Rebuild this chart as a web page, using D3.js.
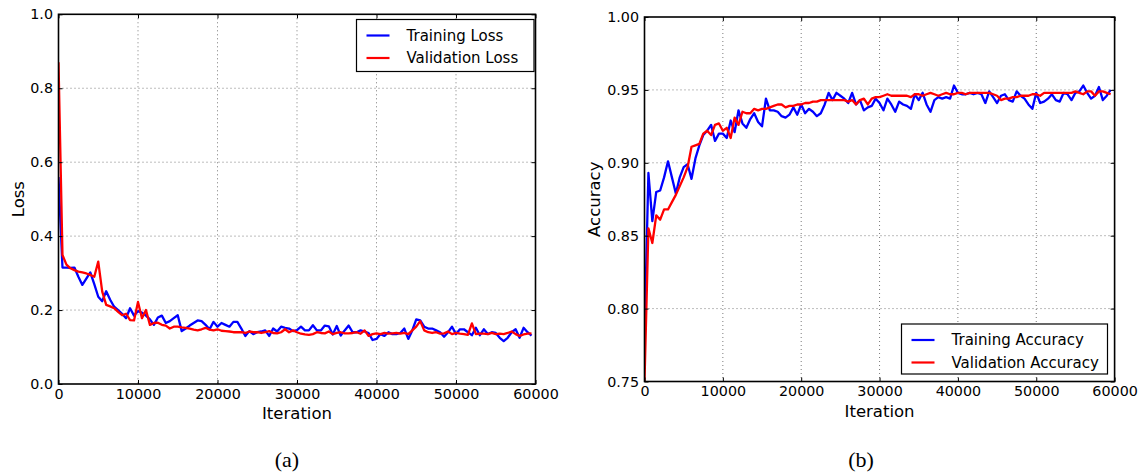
<!DOCTYPE html>
<html>
<head>
<meta charset="utf-8">
<script src="https://cdn.jsdelivr.net/npm/d3@7"></script>
<style>
  html, body { margin: 0; padding: 0; background: #fff; }
  svg { display: block; }
  text { font-family: "DejaVu Sans", sans-serif; fill: #000; }
</style>
</head>
<body>
<svg id="chart" width="1144" height="476"></svg>
<script>
// Iterations logged every 500 steps
const iterations = d3.range(0, 60000, 500);

const trainLoss = [
  0.56, 0.315, 0.315, 0.314, 0.315, 0.29, 0.268, 0.285, 0.302, 0.27,
  0.236, 0.224, 0.251, 0.228, 0.209, 0.2, 0.19, 0.178, 0.205, 0.185,
  0.197, 0.193, 0.185, 0.175, 0.16, 0.18, 0.185, 0.165, 0.17, 0.178,
  0.186, 0.143, 0.15, 0.158, 0.165, 0.172, 0.17, 0.16, 0.148, 0.168,
  0.155, 0.165, 0.16, 0.155, 0.168, 0.168, 0.15, 0.13, 0.143, 0.135,
  0.14, 0.142, 0.145, 0.13, 0.15, 0.142, 0.155, 0.152, 0.15, 0.143,
  0.146, 0.155, 0.145, 0.145, 0.159, 0.145, 0.145, 0.158, 0.156, 0.134,
  0.157, 0.131, 0.145, 0.158, 0.14, 0.14, 0.145, 0.142, 0.138, 0.119,
  0.122, 0.135, 0.13, 0.14, 0.135, 0.135, 0.138, 0.15, 0.122, 0.145,
  0.175, 0.172, 0.155, 0.15, 0.15, 0.145, 0.14, 0.128, 0.14, 0.155,
  0.135, 0.148, 0.148, 0.14, 0.132, 0.152, 0.132, 0.148, 0.135, 0.14,
  0.138, 0.125, 0.116, 0.125, 0.14, 0.148, 0.125, 0.152, 0.14, 0.131
];

const valLoss = [
  0.87, 0.349, 0.323, 0.313, 0.308, 0.304, 0.302, 0.299, 0.295, 0.29,
  0.331, 0.25, 0.214, 0.21, 0.205, 0.195, 0.186, 0.19, 0.173, 0.172,
  0.222, 0.178, 0.2, 0.16, 0.165, 0.166, 0.16, 0.158, 0.15, 0.155,
  0.155, 0.153, 0.152, 0.15, 0.147, 0.145, 0.148, 0.152, 0.147, 0.145,
  0.148, 0.144, 0.143, 0.142, 0.14, 0.14, 0.14, 0.138, 0.142, 0.14,
  0.14, 0.138, 0.14, 0.143, 0.138, 0.137, 0.14, 0.148, 0.14, 0.145,
  0.14, 0.136, 0.134, 0.133, 0.135, 0.14, 0.138, 0.137, 0.142, 0.135,
  0.138, 0.14, 0.137, 0.137, 0.138, 0.14, 0.136, 0.145, 0.13, 0.135,
  0.137, 0.135, 0.138, 0.136, 0.137, 0.138, 0.136, 0.138, 0.135, 0.145,
  0.155, 0.17, 0.145, 0.14, 0.138, 0.14, 0.136, 0.137, 0.142, 0.135,
  0.138, 0.136, 0.135, 0.133, 0.164, 0.135, 0.136, 0.136, 0.135, 0.138,
  0.135, 0.136, 0.135, 0.138, 0.142, 0.135, 0.13, 0.134, 0.136, 0.137
];

const trainAcc = [
  0.78, 0.893, 0.860, 0.880, 0.881, 0.89, 0.901, 0.89, 0.879, 0.89,
  0.897, 0.899, 0.889, 0.903, 0.912, 0.919, 0.922, 0.926, 0.915, 0.92,
  0.92, 0.917, 0.929, 0.921, 0.936, 0.927, 0.924, 0.93, 0.934, 0.928,
  0.925, 0.944, 0.936, 0.936, 0.935, 0.932, 0.931, 0.933, 0.938, 0.933,
  0.94, 0.934, 0.937, 0.935, 0.932, 0.934, 0.94, 0.948, 0.943, 0.948,
  0.946, 0.944, 0.941, 0.948, 0.94, 0.943, 0.936, 0.938, 0.939, 0.944,
  0.941, 0.936, 0.944, 0.94, 0.935, 0.942, 0.94, 0.939, 0.937, 0.947,
  0.943, 0.948, 0.94, 0.935, 0.943, 0.945, 0.944, 0.945, 0.944, 0.953,
  0.948, 0.947, 0.947, 0.948, 0.947, 0.948, 0.947, 0.941, 0.949, 0.945,
  0.941, 0.946, 0.947, 0.943, 0.942, 0.949, 0.946, 0.944, 0.94, 0.937,
  0.948, 0.941, 0.942, 0.944, 0.947, 0.943, 0.942, 0.948, 0.947, 0.943,
  0.948, 0.949, 0.953, 0.948, 0.944, 0.946, 0.952, 0.943, 0.946, 0.95
];

const valAcc = [
  0.75, 0.855, 0.845, 0.864, 0.861, 0.868, 0.868, 0.873, 0.878, 0.884,
  0.89, 0.897, 0.911, 0.912, 0.913, 0.92, 0.922, 0.919, 0.926, 0.927,
  0.922, 0.924, 0.917, 0.931, 0.926, 0.935, 0.934, 0.934, 0.937, 0.936,
  0.937, 0.937, 0.938, 0.939, 0.94, 0.94, 0.938, 0.939, 0.939, 0.94,
  0.94, 0.941, 0.941, 0.942, 0.942, 0.943, 0.943, 0.943, 0.943, 0.943,
  0.943, 0.943, 0.942, 0.943, 0.94, 0.943, 0.944, 0.94, 0.944, 0.945,
  0.945, 0.946, 0.947, 0.946, 0.946, 0.946, 0.946, 0.946, 0.945, 0.947,
  0.947, 0.946, 0.947, 0.948, 0.947, 0.946, 0.947, 0.948, 0.947, 0.947,
  0.948, 0.948, 0.947, 0.948, 0.948, 0.948, 0.948, 0.948, 0.948, 0.947,
  0.946, 0.943, 0.944, 0.944, 0.945, 0.945, 0.946, 0.946, 0.946, 0.947,
  0.947, 0.946, 0.948, 0.948, 0.948, 0.948, 0.948, 0.948, 0.948, 0.948,
  0.949, 0.948, 0.947, 0.949, 0.949, 0.946, 0.949, 0.949, 0.948, 0.947
];

const xTicks = [0, 10000, 20000, 30000, 40000, 50000, 60000];
const lossTicks = [0.0, 0.2, 0.4, 0.6, 0.8, 1.0];
const accTicks = [0.75, 0.80, 0.85, 0.90, 0.95, 1.00];

const lossLegend = ["Training Loss", "Validation Loss"];
const accLegend = ["Training Accuracy", "Validation Accuracy"];
const colors = ["#0000ff", "#ff0000"];

const svg = d3.select("#chart");

function panel(cfg) {
  const { left, right, top, bottom } = cfg.box;
  const x = d3.scaleLinear().domain([0, 60000]).range([left, right]);
  const y = d3.scaleLinear().domain(cfg.yDomain).range([bottom, top]);
  const g = svg.append("g");
  const clipId = "clip-" + cfg.id;
  g.append("clipPath").attr("id", clipId)
    .append("rect").attr("x", left).attr("y", top)
    .attr("width", right - left).attr("height", bottom - top);

  // dotted grid
  const grid = g.append("g").attr("stroke", "#7a7a7a")
    .attr("stroke-width", 1).attr("stroke-dasharray", "1,3");
  xTicks.slice(1, -1).forEach(t => {
    grid.append("line").attr("x1", x(t)).attr("x2", x(t))
      .attr("y1", top).attr("y2", bottom);
  });
  cfg.yTicks.slice(1, -1).forEach(t => {
    grid.append("line").attr("x1", left).attr("x2", right)
      .attr("y1", y(t)).attr("y2", y(t));
  });

  // data lines
  const line = d3.line().x((d, i) => x(iterations[i])).y(d => y(d));
  const lines = g.append("g").attr("clip-path", `url(#${clipId})`);
  cfg.series.forEach((s, i) => {
    lines.append("path").datum(s).attr("d", line)
      .attr("fill", "none").attr("stroke", colors[i])
      .attr("stroke-width", 2.3).attr("stroke-linejoin", "round");
  });

  // axes: labels via d3 axes, inward ticks on all four sides
  const xAxis = d3.axisBottom(x).tickValues(xTicks).tickFormat(d3.format("d"))
    .tickSizeInner(-4).tickSizeOuter(0).tickPadding(4.5);
  const xAxisTop = d3.axisTop(x).tickValues(xTicks).tickFormat("")
    .tickSizeInner(-4).tickSizeOuter(0);
  const yAxis = d3.axisLeft(y).tickValues(cfg.yTicks).tickFormat(d3.format(cfg.yFormat))
    .tickSizeInner(-4).tickSizeOuter(0).tickPadding(5.5);
  const yAxisRight = d3.axisRight(y).tickValues(cfg.yTicks).tickFormat("")
    .tickSizeInner(-4).tickSizeOuter(0);

  const styleAxis = sel => {
    sel.select(".domain").remove();
    sel.selectAll(".tick line").attr("stroke", "#000").attr("stroke-width", 1);
    sel.selectAll(".tick text").attr("font-family", "DejaVu Sans")
      .attr("font-size", 14.3).attr("fill", "#000");
  };
  g.append("g").attr("transform", `translate(0,${bottom})`).call(xAxis).call(styleAxis);
  g.append("g").attr("transform", `translate(0,${top})`).call(xAxisTop).call(styleAxis);
  g.append("g").attr("transform", `translate(${left},0)`).call(yAxis).call(styleAxis);
  g.append("g").attr("transform", `translate(${right},0)`).call(yAxisRight).call(styleAxis);

  // frame
  g.append("rect").attr("x", left).attr("y", top)
    .attr("width", right - left).attr("height", bottom - top)
    .attr("fill", "none").attr("stroke", "#000").attr("stroke-width", 1.6);

  // axis titles
  g.append("text").attr("x", (left + right) / 2).attr("y", bottom + 35)
    .attr("text-anchor", "middle").attr("font-size", 16.5).text("Iteration");
  g.append("text")
    .attr("transform", `translate(${cfg.yLabelX},${(top + bottom) / 2}) rotate(-90)`)
    .attr("text-anchor", "middle").attr("dominant-baseline", "central")
    .attr("font-size", 16.5).text(cfg.yLabel);

  // legend
  const lg = cfg.legend;
  const leg = g.append("g");
  leg.append("rect").attr("x", lg.x).attr("y", lg.y).attr("width", lg.w).attr("height", lg.h)
    .attr("fill", "#fff").attr("stroke", "#000").attr("stroke-width", 1.2);
  lg.labels.forEach((lab, i) => {
    const cy = lg.y + 16 + i * 22.5;
    leg.append("line").attr("x1", lg.x + 10).attr("x2", lg.x + 33)
      .attr("y1", cy).attr("y2", cy).attr("stroke", colors[i]).attr("stroke-width", 2.2);
    leg.append("text").attr("x", lg.x + 50).attr("y", cy)
      .attr("dominant-baseline", "central").attr("font-size", 15).text(lab);
  });

  // sub-figure caption
  svg.append("text").attr("x", cfg.captionX).attr("y", 467)
    .attr("text-anchor", "middle")
    .style("font-family", "'Liberation Serif', serif").attr("font-size", 22)
    .text(cfg.caption);
}

panel({
  id: "loss",
  box: { left: 58.5, right: 535.5, top: 14.3, bottom: 384 },
  yDomain: [0, 1], yTicks: lossTicks, yFormat: ".1f",
  series: [trainLoss, valLoss], yLabel: "Loss", yLabelX: 18,
  legend: { x: 356.5, y: 19.5, w: 177.5, h: 52, labels: lossLegend },
  caption: "(a)", captionX: 287
});

panel({
  id: "acc",
  box: { left: 644.5, right: 1114.6, top: 17, bottom: 381.5 },
  yDomain: [0.75, 1.0], yTicks: accTicks, yFormat: ".2f",
  series: [trainAcc, valAcc], yLabel: "Accuracy", yLabelX: 594,
  legend: { x: 901.5, y: 324, w: 206, h: 50, labels: accLegend },
  caption: "(b)", captionX: 861
});
</script>
</body>
</html>
